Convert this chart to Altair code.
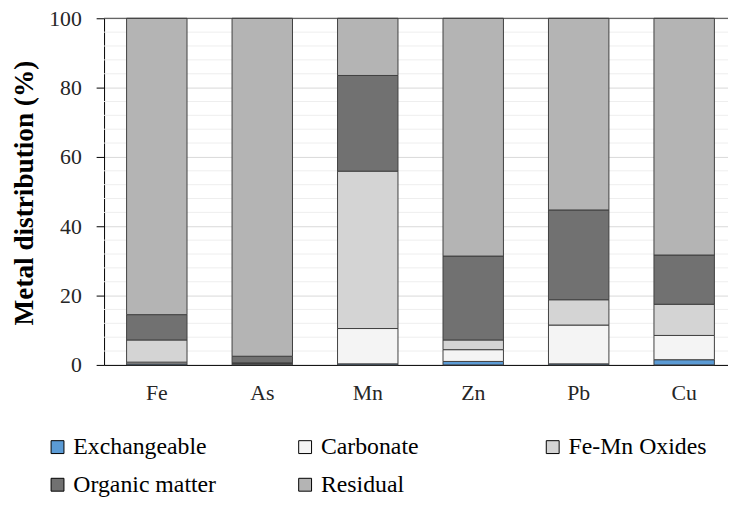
import altair as alt
import pandas as pd

metals = ["Fe", "As", "Mn", "Zn", "Pb", "Cu"]
fractions = ["Exchangeable", "Carbonate", "Fe-Mn Oxides", "Organic matter", "Residual"]
exchangeable = [0.3, 0.2, 0.3, 1.0, 0.3, 1.5]
carbonate = [0.5, 0.2, 10.2, 3.4, 11.2, 7.0]
fe_mn_oxides = [6.4, 0.2, 45.4, 2.8, 7.3, 9.0]
organic_matter = [7.3, 1.9, 27.6, 24.2, 25.9, 14.2]
residual = [85.5, 97.5, 16.5, 68.6, 55.3, 68.3]
y_ticks = [0, 20, 40, 60, 80, 100]
minor_ticks = [4, 8, 12, 16, 24, 28, 32, 36, 44, 48, 52, 56, 64, 68, 72, 76, 84, 88, 92, 96]
fill_colors = ["#5b9bd5", "#f4f4f4", "#d4d4d4", "#717171", "#b4b4b4"]

series = [exchangeable, carbonate, fe_mn_oxides, organic_matter, residual]
rows = []
for k, (name, vals) in enumerate(zip(fractions, series)):
    for m, v in zip(metals, vals):
        rows.append({"metal": m, "fraction": name, "value": v, "order": k})
df = pd.DataFrame(rows)

FONT = "Liberation Serif"
yscale = alt.Scale(domain=[0, 100], nice=False)

minor = alt.Chart(pd.DataFrame({"v": minor_ticks})).mark_rule(
    color="#eeeeee", strokeWidth=1
).encode(y=alt.Y("v:Q", scale=yscale))

bars = alt.Chart(df).mark_bar(stroke="#404040", strokeWidth=1).encode(
    x=alt.X(
        "metal:N",
        sort=metals,
        scale=alt.Scale(range=[0, 639], paddingInner=0.427, paddingOuter=0.2135),
        axis=alt.Axis(
            title=None, ticks=False, labelAngle=0, labelFont=FONT, labelFontSize=22,
            labelColor="#262626", labelPadding=18, domainColor="#000000", grid=False,
        ),
    ),
    y=alt.Y(
        "value:Q",
        stack="zero",
        scale=yscale,
        axis=alt.Axis(
            title="Metal distribution (%)", values=y_ticks, grid=True,
            gridColor="#d9d9d9", domainColor="#000000", tickColor="#000000",
            tickSize=8, labelFont=FONT, labelFontSize=22, labelColor="#262626",
            labelPadding=15, titleFont=FONT, titleFontSize=27.5, titleFontWeight="bold",
            titleColor="#000000", titleX=-80, titleY=176, titleAngle=270,
            titleAlign="center", titleBaseline="middle",
        ),
    ),
    color=alt.Color(
        "fraction:N",
        sort=fractions,
        scale=alt.Scale(domain=fractions, range=fill_colors),
        legend=alt.Legend(
            title=None, orient="none", legendX=-59, legendY=421, direction="horizontal",
            columns=3, gridAlign="all", columnPadding=77, rowPadding=14,
            symbolType="square", symbolSize=169, symbolStrokeColor="#000000",
            symbolStrokeWidth=1, labelFont=FONT, labelFontSize=24,
            labelColor="#000000", labelOffset=4, labelLimit=200, padding=0,
        ),
    ),
    order=alt.Order("order:Q", sort="ascending"),
)

top = alt.Chart(pd.DataFrame({"v": [100]})).mark_rule(
    color="#404040", strokeWidth=1
).encode(y=alt.Y("v:Q", scale=yscale))

chart = alt.layer(minor, bars, top).properties(
    width=630,
    height=350,
    autosize=alt.AutoSizeParams(type="none"),
    padding={"left": 97, "top": 8, "right": 0, "bottom": 132},
).configure_view(stroke=None)

chart.save("out.html", embed_options={"renderer": "svg", "actions": False})
